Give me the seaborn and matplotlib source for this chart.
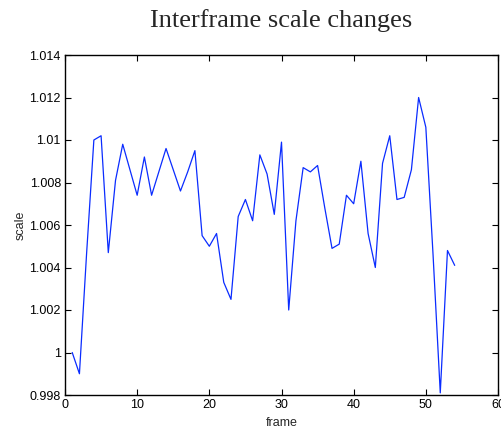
import numpy as np
import pandas as pd
import seaborn as sns
import matplotlib
matplotlib.use("Agg")
import matplotlib.pyplot as plt

# frame index and per-frame scale change
frames = list(range(1, 55))
scale = [1.0000, 0.9990, 1.0047, 1.0100, 1.0102, 1.0047, 1.0081, 1.0098, 1.0086, 1.0074,
         1.0092, 1.0074, 1.0085, 1.0096, 1.0086, 1.0076, 1.0085, 1.0095, 1.0055, 1.0050,
         1.0056, 1.0033, 1.0025, 1.0064, 1.0072, 1.0062, 1.0093, 1.0084, 1.0065, 1.0099,
         1.0020, 1.0062, 1.0087, 1.0085, 1.0088, 1.0068, 1.0049, 1.0051, 1.0074, 1.0070,
         1.0090, 1.0056, 1.0040, 1.0089, 1.0102, 1.0072, 1.0073, 1.0086, 1.0120, 1.0106,
         1.0046, 0.9981, 1.0048, 1.0041]

xticks = [0, 10, 20, 30, 40, 50, 60]
yticks = [0.998, 1.0, 1.002, 1.004, 1.006, 1.008, 1.01, 1.012, 1.014]
ytick_labels = ["0.998", "1", "1.002", "1.004", "1.006", "1.008", "1.01", "1.012", "1.014"]

df = pd.DataFrame({"frame": frames, "scale": scale})

sns.set_style("ticks")
plt.rcParams["font.family"] = ["Liberation Sans", "DejaVu Sans"]
plt.rcParams["xtick.direction"] = "in"
plt.rcParams["ytick.direction"] = "in"

fig = plt.figure(figsize=(5.01, 4.34), dpi=100)
ax = fig.add_axes([65 / 501, 1 - 395 / 434, 433 / 501, 340 / 434])

sns.lineplot(data=df, x="frame", y="scale", color="#0a2cff", linewidth=0.9, ax=ax)

ax.set_xlim(0, 60)
ax.set_ylim(0.998, 1.014)
ax.set_xticks(xticks)
ax.set_xticklabels([str(t) for t in xticks])
ax.set_yticks(yticks)
ax.set_yticklabels(ytick_labels)
ax.tick_params(axis="both", which="both", direction="in", length=4, width=0.8,
               labelsize=9, top=True, right=True, colors="black", pad=3)

for side in ["top", "right", "bottom", "left"]:
    ax.spines[side].set_visible(True)
    ax.spines[side].set_color("black")
    ax.spines[side].set_linewidth(1.0)

ax.set_xlabel("frame", fontsize=9, labelpad=4)
ax.set_ylabel("scale", fontsize=9, labelpad=2)
ax.set_title("Interframe scale changes", fontsize=19, pad=20,
             family=["Liberation Serif", "DejaVu Serif"])

fig.savefig("out.png", dpi=100)
